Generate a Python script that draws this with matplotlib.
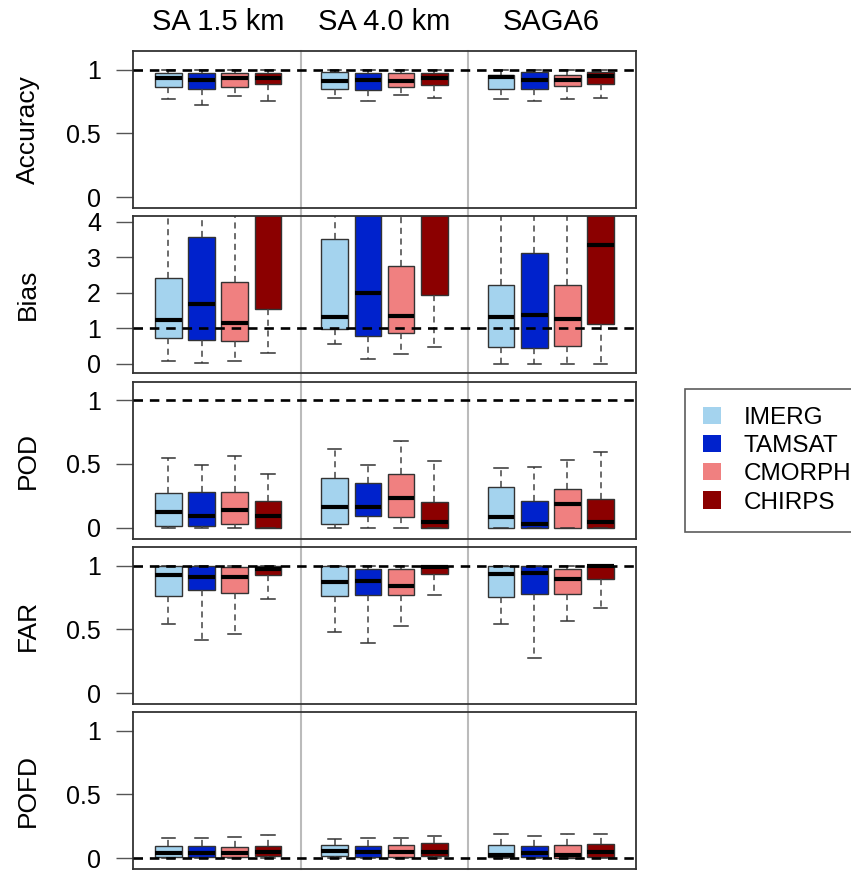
import numpy as np
import matplotlib
matplotlib.use("Agg")
import matplotlib.pyplot as plt
from matplotlib.patches import Patch

plt.rcParams['font.family'] = ['Liberation Sans', 'DejaVu Sans']

# domains and products
domains = ['SA 1.5 km', 'SA 4.0 km', 'SAGA6']
products = ['IMERG', 'TAMSAT', 'CMORPH', 'CHIRPS']
colors = ['#A4D3EE', '#0022CC', '#F08080', '#8B0000']

# box statistics, order: domain x product (IMERG, TAMSAT, CMORPH, CHIRPS)
acc_lo  = [0.77, 0.72, 0.79, 0.75, 0.78, 0.75, 0.80, 0.78, 0.77, 0.75, 0.77, 0.78]
acc_q1  = [0.86, 0.85, 0.86, 0.89, 0.85, 0.84, 0.86, 0.88, 0.85, 0.85, 0.87, 0.89]
acc_med = [0.93, 0.92, 0.93, 0.93, 0.91, 0.92, 0.91, 0.93, 0.94, 0.92, 0.92, 0.95]
acc_q3  = [0.97, 0.97, 0.97, 0.97, 0.98, 0.97, 0.97, 0.97, 0.96, 0.98, 0.96, 0.98]
acc_hi  = [1.00] * 12

bias_lo  = [0.08, 0.03, 0.07, 0.29, 0.54, 0.14, 0.26, 0.48, 0.00, 0.00, 0.00, 0.00]
bias_q1  = [0.71, 0.66, 0.65, 1.54, 0.98, 0.79, 0.86, 1.93, 0.48, 0.43, 0.49, 1.13]
bias_med = [1.22, 1.68, 1.16, 4.60, 1.31, 2.00, 1.34, 4.80, 1.31, 1.38, 1.25, 3.35]
bias_q3  = [2.41, 3.56, 2.30, 6.20, 3.52, 4.60, 2.76, 6.50, 2.21, 3.11, 2.21, 5.80]
bias_hi  = [6.5, 7.0, 6.0, 9.0, 7.0, 8.0, 6.5, 9.5, 5.5, 6.0, 5.5, 8.5]

pod_lo  = [0.0] * 12
pod_q1  = [0.01, 0.016, 0.026, 0.0, 0.029, 0.094, 0.086, 0.0, 0.0, 0.0, 0.0, 0.0]
pod_med = [0.12, 0.094, 0.135, 0.089, 0.159, 0.164, 0.234, 0.042, 0.083, 0.031, 0.185, 0.042]
pod_q3  = [0.268, 0.276, 0.281, 0.208, 0.388, 0.349, 0.422, 0.203, 0.318, 0.206, 0.305, 0.227]
pod_hi  = [0.544, 0.487, 0.56, 0.422, 0.615, 0.49, 0.677, 0.526, 0.464, 0.477, 0.531, 0.589]

far_lo  = [0.541, 0.417, 0.467, 0.738, 0.478, 0.394, 0.530, 0.769, 0.543, 0.273, 0.564, 0.667]
far_q1  = [0.758, 0.806, 0.785, 0.924, 0.761, 0.772, 0.772, 0.934, 0.751, 0.780, 0.780, 0.898]
far_med = [0.924, 0.911, 0.911, 0.976, 0.874, 0.877, 0.843, 0.987, 0.932, 0.945, 0.895, 0.995]
far_q3  = [1.0, 0.994, 0.987, 1.0, 0.994, 0.976, 0.976, 0.995, 0.994, 1.0, 0.974, 1.0]
far_hi  = [1.0] * 12

pofd_lo  = [0.0] * 12
pofd_q1  = [0.01, 0.005, 0.005, 0.016, 0.016, 0.005, 0.01, 0.016, 0.005, 0.005, 0.0, 0.005]
pofd_med = [0.039, 0.042, 0.042, 0.05, 0.052, 0.045, 0.047, 0.05, 0.026, 0.042, 0.021, 0.045]
pofd_q3  = [0.094, 0.094, 0.087, 0.094, 0.105, 0.094, 0.102, 0.115, 0.102, 0.094, 0.10, 0.11]
pofd_hi  = [0.155, 0.155, 0.163, 0.178, 0.147, 0.155, 0.157, 0.171, 0.186, 0.173, 0.191, 0.186]

metrics = ['Accuracy', 'Bias', 'POD', 'FAR', 'POFD']
stats = [
    (acc_lo, acc_q1, acc_med, acc_q3, acc_hi),
    (bias_lo, bias_q1, bias_med, bias_q3, bias_hi),
    (pod_lo, pod_q1, pod_med, pod_q3, pod_hi),
    (far_lo, far_q1, far_med, far_q3, far_hi),
    (pofd_lo, pofd_q1, pofd_med, pofd_q3, pofd_hi),
]
ref_lines = [1, 1, 1, 1, 0]
yticks = [[0, 0.5, 1], [0, 1, 2, 3, 4], [0, 0.5, 1], [0, 0.5, 1], [0, 0.5, 1]]
yticklabels = [['0', '0.5', '1'], ['0', '1', '2', '3', '4'],
               ['0', '0.5', '1'], ['0', '0.5', '1'], ['0', '0.5', '1']]
ylims = [(-0.0856, 1.1456), (-0.264, 4.164), (-0.0856, 1.1456),
         (-0.0856, 1.1456), (-0.0856, 1.1456)]

W, H = 851, 871
fig = plt.figure(figsize=(W / 100, H / 100), dpi=100)

left, right = 133, 636
tops = [51, 216, 381.5, 547, 712]
ph = 157

positions = [g * 5 + k + 1 for g in range(3) for k in range(4)]
box_colors = colors * 3

for i, m in enumerate(metrics):
    ax = fig.add_axes([left / W, 1 - (tops[i] + ph) / H, (right - left) / W, ph / H])
    lo, q1, med, q3, hi = stats[i]
    bxpstats = []
    for j in range(12):
        bxpstats.append(dict(med=med[j], q1=q1[j], q3=q3[j],
                             whislo=lo[j], whishi=hi[j], fliers=[]))
    bp = ax.bxp(bxpstats, positions=positions, widths=0.8, capwidths=0.4,
                patch_artist=True, showfliers=False,
                boxprops=dict(edgecolor='#333333', linewidth=1.0),
                medianprops=dict(color='black', linewidth=3.0, solid_capstyle='butt'),
                whiskerprops=dict(color='#444444', linewidth=1.1, linestyle=(0, (4, 3))),
                capprops=dict(color='#333333', linewidth=1.1))
    for patch, c in zip(bp['boxes'], box_colors):
        patch.set_facecolor(c)

    ax.axhline(ref_lines[i], color='black', linewidth=1.9,
               linestyle=(0, (3.6, 2.6)), zorder=5)
    for xs in (5, 10):
        ax.axvline(xs, color='#BBBBBB', linewidth=1.5, zorder=0,
                   ymin=-0.03 if i < 4 else 0, ymax=1.0 if i == 0 else 1.03,
                   clip_on=False)

    ax.set_xlim(-0.06, 15.06)
    ax.set_ylim(*ylims[i])
    ax.set_xticks([])
    ax.set_yticks(yticks[i])
    ax.set_yticklabels(yticklabels[i], fontsize=18)
    ax.tick_params(axis='y', length=12, width=1.0, color='#555555', pad=11)
    for s in ax.spines.values():
        s.set_linewidth(1.3)
        s.set_color('#333333')
    ax.set_ylabel(m, fontsize=19)
    ax.yaxis.set_label_coords(-0.185, 0.5)

    if i == 0:
        for g, d in enumerate(domains):
            ax.text(g * 5 + 2.5, 1.135, d, transform=ax.get_xaxis_transform(),
                    ha='center', va='baseline', fontsize=21)

handles = [Patch(facecolor=c, edgecolor='none') for c in colors]
leg = fig.legend(handles, products, loc='upper left',
                 bbox_to_anchor=(685 / W, 1 - 389 / H), fontsize=17.5,
                 frameon=True, fancybox=False, edgecolor='#333333',
                 handlelength=0.75, handleheight=0.7, borderpad=0.75,
                 labelspacing=0.25, handletextpad=0.9, borderaxespad=0)
leg.get_frame().set_linewidth(1.2)

fig.savefig('out.png', dpi=100)
